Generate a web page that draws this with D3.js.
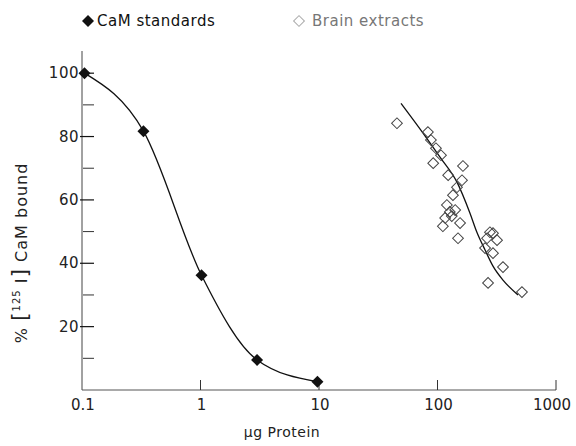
<!DOCTYPE html>
<html>
<head>
<meta charset="utf-8">
<script src="https://cdn.jsdelivr.net/npm/d3@7"></script>
<style>
  body { margin: 0; background: #fff; }
  text { font-family: "DejaVu Sans", sans-serif; }
</style>
</head>
<body>
<div id="chart"></div>
<script>
// SVG size
var svgWidth = 576;
var svgHeight = 446;

// CaM standards (ug protein, % bound)
var stdDose = [0.105, 0.33, 1.02, 3.0, 9.7];
var stdBound = [100, 81.7, 36.2, 9.5, 2.6];

// Brain extracts (scatter)
var brainDose = [45.5, 83, 88, 97, 107, 92, 164, 123, 146, 161, 135, 120, 127, 141, 116, 111, 155, 149, 132,
                 277, 318, 262, 252, 294, 357, 267, 516, 294];
var brainBound = [84.2, 81.4, 78.9, 76.3, 74.1, 71.6, 70.7, 67.8, 64.0, 66.2, 61.5, 58.4, 56.2, 56.8, 54.3, 51.7, 52.7, 47.9, 54.9,
                  49.8, 47.3, 47.9, 44.8, 43.2, 38.8, 33.8, 30.9, 49.5];

// fitted line through brain extracts
var fitDose = [49.2, 75.5, 105, 146, 188, 215, 252, 294, 357, 478];
var fitBound = [90.5, 81.1, 73.5, 65.6, 55.8, 49.8, 44.2, 39.1, 34.7, 30.0];

// ticks
var yMajor = [20, 40, 60, 80, 100];
var yMinor = [10, 30, 50, 70, 90];
var xTicks = [0.1, 1, 10, 100, 1000];
var xTickLabels = ["0.1", "1", "10", "100", "1000"];

var svg = d3.select("#chart")
  .append("svg")
    .attr("width", svgWidth)
    .attr("height", svgHeight);

var xScale = d3.scaleLog()
  .domain([0.1, 1000])
  .range([82, 556]);

var yScale = d3.scaleLinear()
  .domain([0, 107])
  .range([390, 51]);

var ink = "#111";

// y axis line
svg.append("line")
  .attr("x1", xScale(0.1)).attr("x2", xScale(0.1))
  .attr("y1", yScale(0)).attr("y2", yScale(107))
  .attr("stroke", "#444").attr("stroke-width", 1);

// x axis line
svg.append("line")
  .attr("x1", xScale(0.1)).attr("x2", xScale(1000))
  .attr("y1", yScale(0)).attr("y2", yScale(0))
  .attr("stroke", "#555").attr("stroke-width", 1);

// y ticks (drawn inward)
svg.selectAll(".ymaj")
  .data(yMajor)
  .enter()
  .append("line")
  .attr("x1", xScale(0.1) - 2).attr("x2", xScale(0.1) + 12)
  .attr("y1", d => yScale(d)).attr("y2", d => yScale(d))
  .attr("stroke", ink).attr("stroke-width", 1.2);

svg.selectAll(".ymin")
  .data(yMinor)
  .enter()
  .append("line")
  .attr("x1", xScale(0.1) + 1).attr("x2", xScale(0.1) + 12)
  .attr("y1", d => yScale(d)).attr("y2", d => yScale(d))
  .attr("stroke", "#333").attr("stroke-width", 1);

svg.selectAll(".ylab")
  .data(yMajor)
  .enter()
  .append("text")
  .attr("x", xScale(0.1) - 3)
  .attr("y", d => yScale(d) + 5)
  .attr("text-anchor", "end")
  .style("font-size", "15px")
  .style("letter-spacing", "0.5px")
  .attr("fill", "#222")
  .text(d => d);

// x ticks (upward)
svg.selectAll(".xtick")
  .data(xTicks.slice(1))
  .enter()
  .append("line")
  .attr("x1", d => xScale(d)).attr("x2", d => xScale(d))
  .attr("y1", yScale(0)).attr("y2", yScale(0) - 10)
  .attr("stroke", "#333").attr("stroke-width", 1);

svg.selectAll(".xlab")
  .data(xTicks)
  .enter()
  .append("text")
  .attr("x", d => xScale(d) - (d === 1000 ? 4 : -1))
  .attr("y", yScale(0) + 20)
  .attr("text-anchor", "middle")
  .style("font-size", "15px")
  .attr("fill", "#222")
  .text((d, i) => xTickLabels[i]);

// axis titles
svg.append("text")
  .attr("x", 282)
  .attr("y", 437)
  .attr("text-anchor", "middle")
  .style("font-size", "14px")
  .style("letter-spacing", "0.5px")
  .attr("fill", "#222")
  .text("\u03bcg Protein");

var yTitle = svg.append("text")
  .attr("transform", "translate(27, 253) rotate(-90)")
  .attr("text-anchor", "middle")
  .style("font-size", "16px")
  .style("letter-spacing", "1px")
  .attr("fill", "#222");
yTitle.append("tspan").text("%  ");
yTitle.append("tspan").style("font-size", "22px").text("[");
yTitle.append("tspan").style("font-size", "10px").attr("dy", -7).text("125");
yTitle.append("tspan").attr("dy", 7).text(" I");
yTitle.append("tspan").style("font-size", "22px").text("]");
yTitle.append("tspan").text(" CaM bound");

// curves
var line = d3.line()
  .x(d => xScale(d[0]))
  .y(d => yScale(d[1]))
  .curve(d3.curveMonotoneX);

svg.append("path")
  .datum(d3.zip(stdDose, stdBound))
  .attr("d", line)
  .attr("fill", "none")
  .attr("stroke", ink)
  .attr("stroke-width", 1.3);

svg.append("path")
  .datum(d3.zip(fitDose, fitBound))
  .attr("d", line)
  .attr("fill", "none")
  .attr("stroke", ink)
  .attr("stroke-width", 1.3);

// markers
var bigDiamond = d3.symbol().type(d3.symbolSquare).size(72);
var smallDiamond = d3.symbol().type(d3.symbolSquare).size(58);

svg.selectAll(".brain")
  .data(d3.zip(brainDose, brainBound))
  .enter()
  .append("path")
  .attr("d", smallDiamond)
  .attr("transform", d => `translate(${xScale(d[0])}, ${yScale(d[1])}) rotate(45)`)
  .attr("fill", "none")
  .attr("stroke", "#444")
  .attr("stroke-width", 1);

svg.selectAll(".std")
  .data(d3.zip(stdDose, stdBound))
  .enter()
  .append("path")
  .attr("d", bigDiamond)
  .attr("transform", d => `translate(${xScale(d[0])}, ${yScale(d[1])}) rotate(45)`)
  .attr("fill", ink);

// legend
svg.append("path")
  .attr("d", bigDiamond)
  .attr("transform", "translate(88, 21) rotate(45)")
  .attr("fill", ink);
svg.append("text")
  .attr("x", 97).attr("y", 26)
  .style("font-size", "15px")
  .style("letter-spacing", "0.5px")
  .attr("fill", "#111")
  .text("CaM standards");

svg.append("path")
  .attr("d", smallDiamond)
  .attr("transform", "translate(299, 21) rotate(45)")
  .attr("fill", "none")
  .attr("stroke", "#aaa");
svg.append("text")
  .attr("x", 312).attr("y", 26)
  .style("font-size", "15px")
  .style("letter-spacing", "0.5px")
  .attr("fill", "#777")
  .text("Brain extracts");
</script>
</body>
</html>
